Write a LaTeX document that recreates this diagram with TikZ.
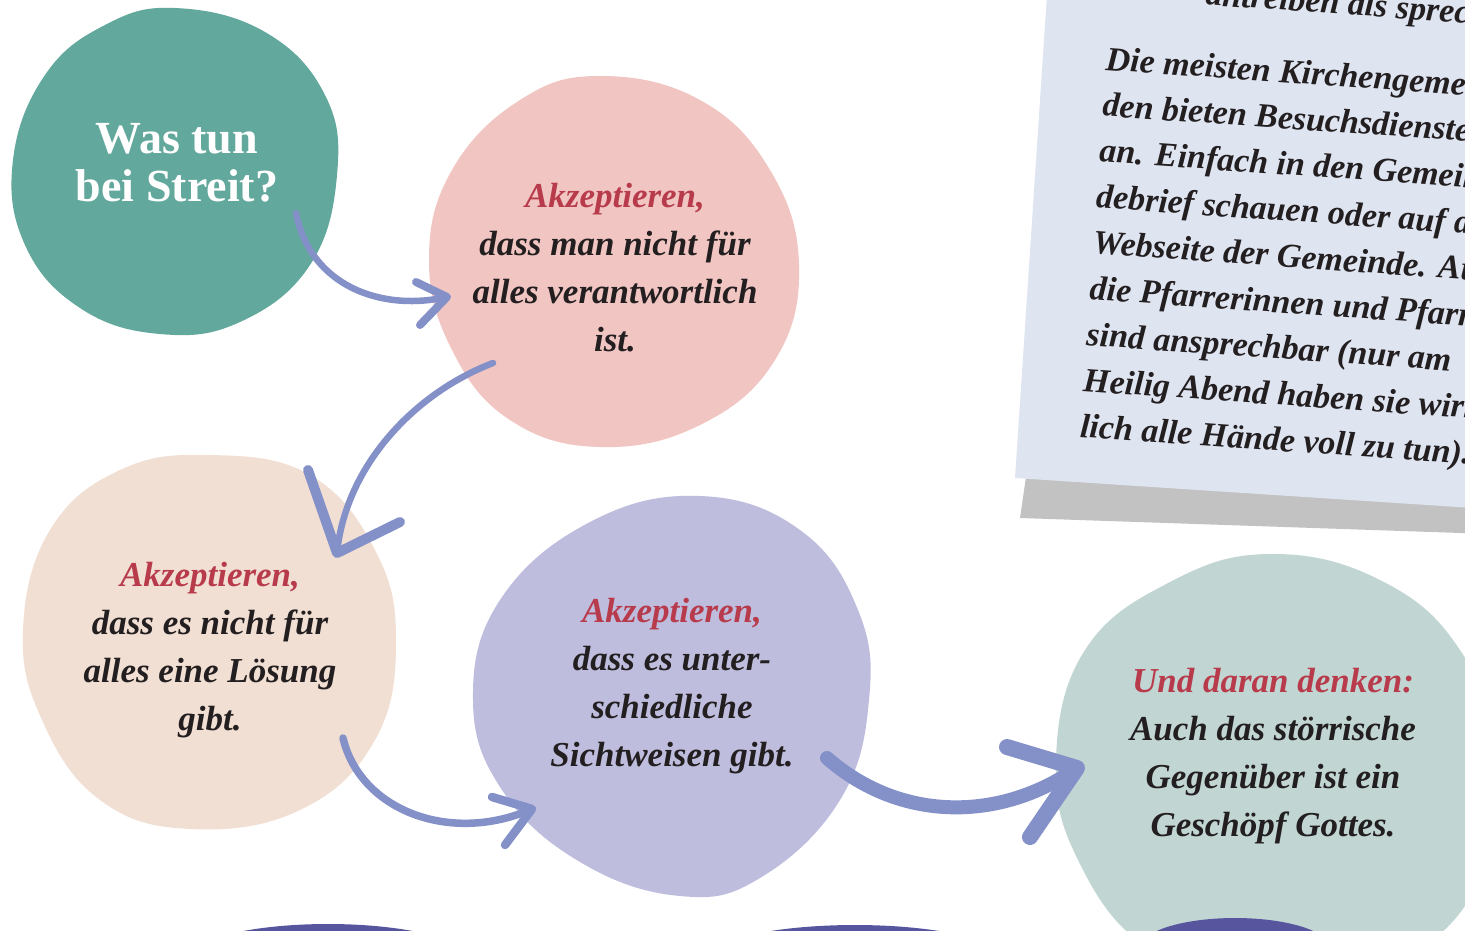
\documentclass[tikz,border=0pt]{standalone}
\usepackage{fontspec}
\setmainfont{Liberation Serif}
\newfontfamily\bubfont{Liberation Serif}
\definecolor{teal}{HTML}{62A89C}
\definecolor{pinkb}{HTML}{F0C5C2}
\definecolor{beige}{HTML}{F2DFD3}
\definecolor{lav}{HTML}{BFBDDE}
\definecolor{sage}{HTML}{C1D6D3}
\definecolor{deep}{HTML}{58559F}
\definecolor{arrowc}{HTML}{8490C8}
\definecolor{cardc}{HTML}{DFE4F1}
\definecolor{shadowc}{HTML}{C2C2C2}
\definecolor{redt}{HTML}{B83B4C}
\definecolor{ink}{HTML}{231F20}
\tikzset{
  bubtext/.style={align=center, text=ink, font=\bubfont\bfseries\itshape\fontsize{35}{48}\selectfont, inner sep=0pt},
  cardtext/.style={anchor=base west, rotate=-4, text=ink, font=\bfseries\itshape\fontsize{34}{46}\selectfont, inner sep=0pt},
  arrowline/.style={draw=arrowc, line cap=round, line join=round},
}
\begin{document}
\begin{tikzpicture}[x=1pt,y=-1pt]
\useasboundingbox (0,0) rectangle (1465,930);
% card shadow and card
\fill[shadowc] (1027,470) -- (1020,518) -- (1490,534) -- (1490,490) -- cycle;
\fill[cardc] (1015,478) -- (1052,-81) -- (1571,-46) -- (1534,512) -- cycle;
\begin{scope}[shift={(1105,70)},rotate=-4]
\node[cardtext] (c0) at (95,-72) {antreiben als sprechen};
\node[cardtext] (card) at (0,0) {\parbox[t]{700pt}{\raggedright
Die meisten Kirchengemein-\\
den bieten Besuchsdienste\\
an. Einfach in den Gemeinde-\\
debrief schauen oder auf der\\
Webseite der Gemeinde. Auch\\
die Pfarrerinnen und Pfarrer\\
sind ansprechbar (nur am\\
Heilig Abend haben sie wirk-\\
lich alle Hände voll zu tun).}};
\end{scope}
% blobs
\fill[teal] plot[smooth cycle, tension=0.7] coordinates {(175,8) (265,32) (325,95) (337,175) (310,265) (240,322) (160,334) (80,308) (25,245) (13,160) (45,75) (105,25)};
\fill[pinkb] plot[smooth cycle, tension=0.7] coordinates {(600,76) (700,100) (770,170) (799,265) (775,360) (700,425) (600,447) (510,420) (452,350) (429,260) (452,170) (520,100)};
\fill[beige] plot[smooth cycle, tension=0.7] coordinates {(210,455) (310,475) (375,550) (396,640) (375,740) (300,810) (190,829) (100,800) (42,720) (23,630) (50,530) (120,470)};
\fill[lav] plot[smooth cycle, tension=0.7] coordinates {(700,496) (800,530) (858,610) (869,700) (840,800) (760,878) (680,896) (580,862) (502,790) (473,700) (500,600) (590,522)};
\fill[sage] plot[smooth cycle, tension=0.7] coordinates {(1270,554) (1380,580) (1460,650) (1500,760) (1480,880) (1400,960) (1270,990) (1150,950) (1078,860) (1056,760) (1085,650) (1170,582)};
\fill[deep] (328,964) ellipse [x radius=150, y radius=40];
\fill[deep] (855,965) ellipse [x radius=160, y radius=40];
\fill[deep] (1235,948) ellipse [x radius=95, y radius=30];
% texts
\node[align=center, text=white, font=\bfseries\fontsize{46}{48}\selectfont, inner sep=0pt] (q) at (177,163) {Was tun\\bei Streit?};
\node[bubtext] (b1) at (615,268) {\textcolor{redt}{Akzeptieren,}\\dass man nicht für\\alles verantwortlich\\ist.};
\node[bubtext] (b2) at (210,650) {\textcolor{redt}{Akzeptieren,}\\dass es nicht für\\alles eine Lösung\\gibt.};
\node[bubtext] (b3) at (672,686) {\textcolor{redt}{Akzeptieren,}\\dass es unter-\\schiedliche\\Sichtweisen gibt.};
\node[bubtext] (b4) at (1273,756) {\textcolor{redt}{Und daran denken:}\\Auch das störrische\\Gegenüber ist ein\\Geschöpf Gottes.};
% arrow anchor coordinates
\coordinate (s1) at (296,213); \coordinate (t1) at (447,297);
\coordinate (s2) at (493,363); \coordinate (t2) at (337,553);
\coordinate (s3) at (343,738); \coordinate (t3) at (532,809);
\coordinate (s4) at (827,758); \coordinate (t4) at (1077,768);
% arrows
\draw[arrowline, line width=6.5] (s1) .. controls (310,285) and (380,312) .. (t1);
\draw[arrowline, line width=8] (416,282) -- (t1) -- (420,325);
\draw[arrowline, line width=6.5] (s2) .. controls (410,395) and (345,470) .. (t2);
\draw[arrowline, line width=10] (308,470) -- (t2) -- (400,522);
\draw[arrowline, line width=7.5] (s3) .. controls (360,810) and (450,845) .. (t3);
\draw[arrowline, line width=8.5] (492,797) -- (t3) -- (505,845);
\draw[arrowline, line width=14] (s4) .. controls (900,822) and (1000,822) .. (t4);
\draw[arrowline, line width=16] (1007,747) -- (t4) -- (1030,837);
\end{tikzpicture}
\end{document}
